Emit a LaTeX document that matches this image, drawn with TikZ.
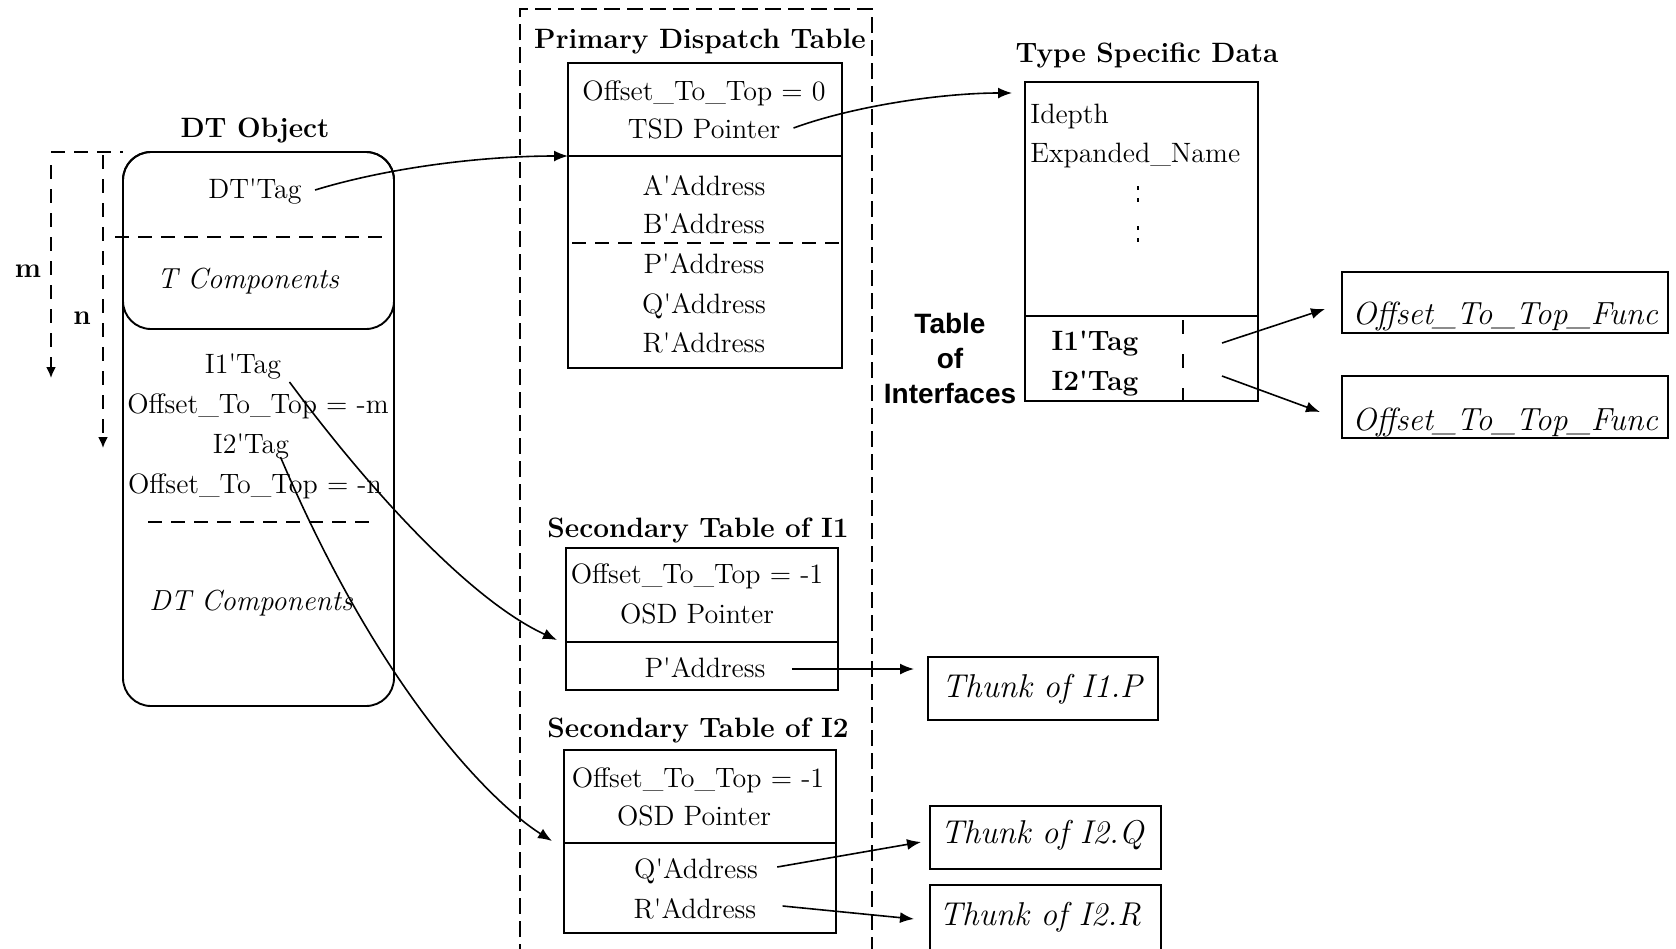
\documentclass[tikz,border=0pt]{standalone}
\usepackage{fontspec}
\newfontfamily\helvfont{Liberation Sans}
\usetikzlibrary{arrows.meta,fit}
\newcommand\aptick{\textquotesingle}
\begin{document}
\begin{tikzpicture}[x=0.5pt,y=-0.5pt,
  box/.style={draw, line width=0.95pt, inner sep=0pt, outer sep=0pt},
  rbox/.style={box, rounded corners=14pt},
  txt/.style={inner sep=0pt, anchor=base, font=\fontsize{14}{17}\selectfont},
  ttl/.style={inner sep=0pt, anchor=base, font=\fontsize{14}{17}\selectfont\bfseries},
  comp/.style={txt, font=\fontsize{14.5}{17}\selectfont\itshape},
  fntxt/.style={inner sep=0pt, anchor=base, font=\fontsize{16.5}{20}\selectfont\itshape},
  sepline/.style={line width=0.95pt},
  dashsep/.style={line width=0.9pt, dash pattern=on 7pt off 4.5pt},
  pdtframe/.style={line width=0.9pt, dash pattern=on 8pt off 3.5pt},
  link/.style={line width=0.8pt, -{Latex[length=7pt,width=5.5pt]}},
  dimarrow/.style={line width=0.9pt, dash pattern=on 7pt off 5pt, -{Latex[length=5.5pt,width=5pt]}},
]
\useasboundingbox (0,0) rectangle (1676,948);
\fill[white] (0,0) rectangle (1676,948);

% ---------- DT object ----------
\node[ttl] (dtobjT) at (255,137) {DT Object};
\node[rbox, fit={(123,152) (394,706)}] (dtobj) {};
\node[rbox, fit={(123,152) (394,329)}] (dthead) {};
\draw[dashsep] (115,237) -- (385,237);
\draw[dashsep] (148,522) -- (373,522);
\draw[dashsep] (51,152) -- (dtobj.north west);
\draw[dimarrow] (51,165) -- (51,378);
\draw[dimarrow] (103,155) -- (103,448);
\node[ttl] (mlab) at (28,277) {m};
\node[ttl] (nlab) at (82,324) {n};

\node[txt]  (dttag)  at (255,198) {DT\aptick Tag};
\node[comp] (tcomp)  at (248,288) {T Components};
\node[txt]  (i1tag)  at (243,373) {I1\aptick Tag};
\node[txt]  (ofm)    at (258,413) {Offset\_To\_Top = -m};
\node[txt]  (i2tag)  at (251,453) {I2\aptick Tag};
\node[txt]  (ofn)    at (255,493) {Offset\_To\_Top = -n};
\node[comp] (dtcomp) at (251,610) {DT Components};

% ---------- primary dispatch table ----------
\draw[pdtframe] (520,960) -- (520,9) -- (872,9) -- (872,960);
\node[ttl] (pdtT) at (700,48) {Primary Dispatch Table};
\node[box, fit={(568,63) (842,368)}] (pdt) {};
\coordinate (pdtsep) at (568,156);
\coordinate (pdtdash) at (572,243);
\draw[sepline] (pdtsep) -- (pdt.east |- pdtsep);
\draw[dashsep] (pdtdash) -- ([xshift=-1pt]pdt.east |- pdtdash);
\node[txt] (pdtoff) at (704,100) {Offset\_To\_Top = 0};
\node[txt] (tsdptr) at (704,138) {TSD Pointer};
\node[txt] (pa) at (704,195) {A\aptick Address};
\node[txt] (pb) at (704,233) {B\aptick Address};
\node[txt] (pp) at (704,273) {P\aptick Address};
\node[txt] (pq) at (704,313) {Q\aptick Address};
\node[txt] (pr) at (704,352) {R\aptick Address};

% ---------- type specific data ----------
\node[ttl] (tsdT) at (1147,62) {Type Specific Data};
\node[box, fit={(1025,82) (1258,401)}] (tsd) {};
\coordinate (tsdsep) at (1025,316);
\draw[sepline] (tsdsep) -- (tsd.east |- tsdsep);
\draw[line width=0.9pt, dash pattern=on 7pt off 10pt] (1183,320) -- (1183,401);
\node[txt, anchor=base west] (idepth) at (1030,123) {Idepth};
\node[txt, anchor=base west] (expname) at (1030,162) {Expanded\_Name};
\draw[line width=1pt, dash pattern=on 2pt off 4pt on 2pt off 12pt] (1138,186) -- (1138,243);
\node[ttl] (ti1) at (1095,350) {I1\aptick Tag};
\node[ttl] (ti2) at (1095,390) {I2\aptick Tag};
\node[inner sep=0pt, align=center, font=\helvfont\bfseries\fontsize{14}{17.5}\selectfont]
  (toi) at (950,358) {Table\\of\\Interfaces};

\node[box, fit={(1342,272) (1668,333)}] (func1) {};
\node[fntxt, font=\fontsize{16}{20}\selectfont\itshape] (func1t) at (1505,324) {Offset\_To\_Top\_Func};
\node[box, fit={(1342,376) (1668,438)}] (func2) {};
\node[fntxt, font=\fontsize{16}{20}\selectfont\itshape] (func2t) at (1505,430) {Offset\_To\_Top\_Func};

% ---------- secondary table of I1 ----------
\node[ttl] (s1T) at (698,537) {Secondary Table of I1};
\node[box, fit={(566,548) (838,690)}] (sec1) {};
\coordinate (sec1sep) at (566,642);
\draw[sepline] (sec1sep) -- (sec1.east |- sec1sep);
\node[txt] (s1off) at (697,583) {Offset\_To\_Top = -1};
\node[txt] (s1osd) at (697,623) {OSD Pointer};
\node[txt] (s1p) at (705,677) {P\aptick Address};

% ---------- secondary table of I2 ----------
\node[ttl] (s2T) at (698,737) {Secondary Table of I2};
\node[box, fit={(564,750) (836,933)}] (sec2) {};
\coordinate (sec2sep) at (564,843);
\draw[sepline] (sec2sep) -- (sec2.east |- sec2sep);
\node[txt] (s2off) at (698,787) {Offset\_To\_Top = -1};
\node[txt] (s2osd) at (694,825) {OSD Pointer};
\node[txt] (s2q) at (696,878) {Q\aptick Address};
\node[txt] (s2r) at (695,918) {R\aptick Address};

% ---------- thunks ----------
\node[box, fit={(928,657) (1158,720)}] (th1) {};
\node[fntxt] (th1t) at (1042,697) {Thunk of I1.P};
\node[box, fit={(930,806) (1161,869)}] (th2) {};
\node[fntxt] (th2t) at (1042,843) {Thunk of I2.Q};
\node[box, fit={(930,885) (1161,975)}] (th3) {};
\node[fntxt] (th3t) at (1040,925) {Thunk of I2.R};

% ---------- connectors ----------
\draw[link] ([shift={(13,-8)}]dttag.base east) .. controls +(72,-22) and +(-88,0) .. (pdtsep);
\draw[link] ([shift={(13,-10)}]tsdptr.base east) .. controls +(60,-22) and +(-70,0) .. ([shift={(-13,11)}]tsd.north west);
\draw[link] ([shift={(8,9)}]i1tag.base east) .. controls +(80,108) and +(-87,-40) .. ([shift={(-9,-2)}]sec1sep);
\draw[link] ([shift={(-9,4)}]i2tag.base east) .. controls +(100,235) and +(-60,-38) .. ([shift={(-12,-2)}]sec2sep);
\draw[link] ([shift={(26,-8)}]s1p.base east) -- ([shift={(-14,-19.5)}]th1.west);
\draw[link] ([shift={(19,-11)}]s2q.base east) -- ([shift={(-9,4.5)}]th2.west);
\draw[link] ([shift={(26,-12)}]s2r.base east) -- ([shift={(-16,34)}]th3.north west);
\draw[link] ([shift={(-36,-58)}]tsd.south east) -- ([shift={(-17,6.5)}]func1.west);
\draw[link] ([shift={(-36,-25)}]tsd.south east) -- ([shift={(-22,5)}]func2.west);
\end{tikzpicture}
\end{document}
